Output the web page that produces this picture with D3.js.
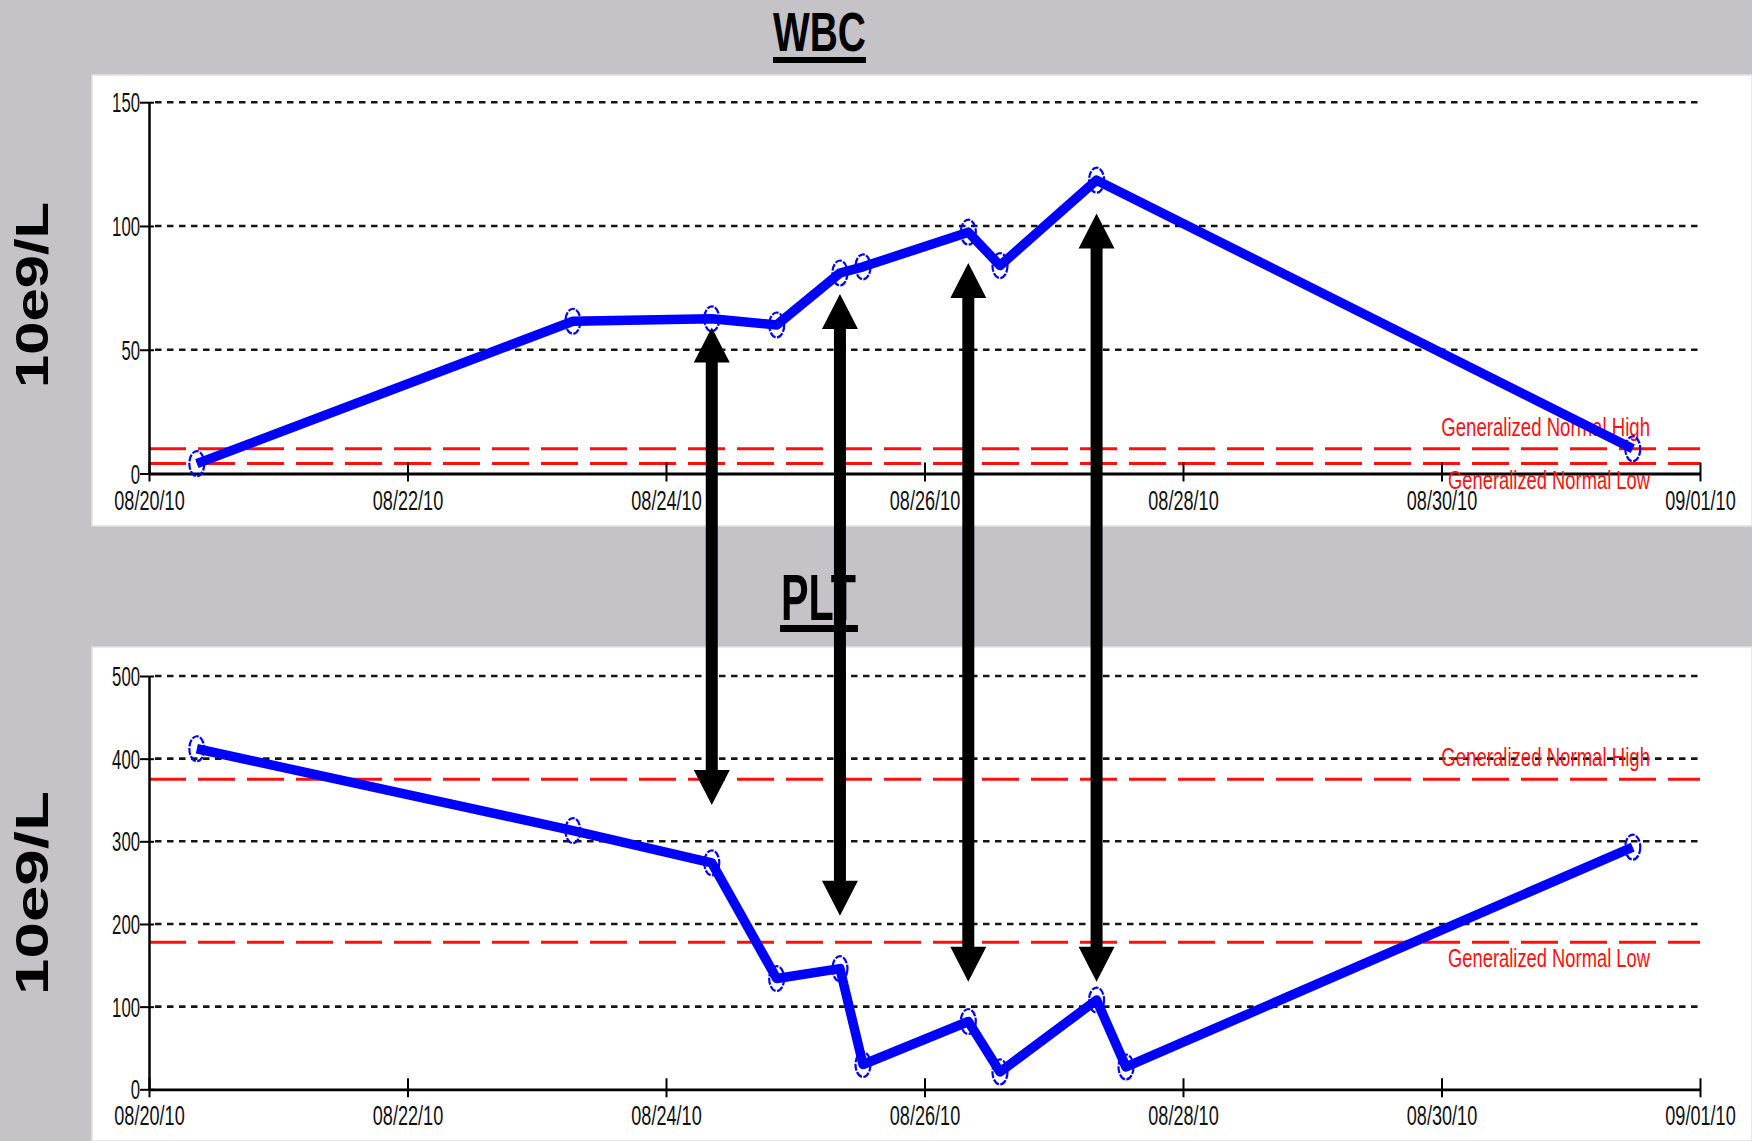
<!DOCTYPE html>
<html><head><meta charset="utf-8">
<script src="https://cdn.jsdelivr.net/npm/d3@7"></script>
<style>html,body{margin:0;padding:0;background:#c5c3c7;} svg{display:block;}</style>
</head><body><svg id="c" width="1752" height="1141"></svg>
<script>
// ---------- data ----------
const tickDates = ["2010-08-20","2010-08-22","2010-08-24","2010-08-26","2010-08-28","2010-08-30","2010-09-01"];
const wbcDates = ["2010-08-20T08:53","2010-08-23T06:43","2010-08-24T08:30","2010-08-24T20:33","2010-08-25T08:18",
                  "2010-08-25T12:35","2010-08-26T08:08","2010-08-26T14:01","2010-08-27T07:57","2010-08-31T11:31"];
const wbcValues = [4, 61.5, 62.5, 60, 81, 83.5, 97.5, 84, 118.5, 10];
const pltDates = ["2010-08-20T08:53","2010-08-23T06:43","2010-08-24T08:30","2010-08-24T20:33","2010-08-25T08:18",
                  "2010-08-25T12:35","2010-08-26T08:08","2010-08-26T14:01","2010-08-27T07:57","2010-08-27T13:25","2010-08-31T11:31"];
const pltValues = [412, 313, 274, 134, 146, 30, 82, 21, 108, 27, 293];
const wbcTicks = [0, 50, 100, 150];
const pltTicks = [0, 100, 200, 300, 400, 500];
const wbcNormalRange = [4, 10];     // low, high
const pltNormalRange = [178, 375];  // low, high
const normalLabels = ["Generalized Normal Low", "Generalized Normal High"];
const titles = ["WBC", "PLT"];
const unitLabel = "10e9/L";
const arrowDates = ["2010-08-24T08:30","2010-08-25T08:18","2010-08-26T08:08","2010-08-27T07:57"];
const arrowWbcTips = [59, 72.5, 85, 105];
const arrowPltTips = [344, 210, 130, 130];

// ---------- setup ----------
const pT = d3.timeParse("%Y-%m-%dT%H:%M"), pD = d3.timeParse("%Y-%m-%d");
const fmt = d3.timeFormat("%m/%d/%y");
const svg = d3.select("#c");
const GRAY = "#c5c3c7";
const FONT = "Liberation Sans, Arial, sans-serif";
svg.append("rect").attr("width",1752).attr("height",1141).attr("fill",GRAY);

const x = d3.scaleTime().domain([pD(tickDates[0]), pD(tickDates[tickDates.length-1])]).range([149, 1700]);

const panels = [
  {title:titles[0], dates:wbcDates, values:wbcValues, ticks:wbcTicks, normal:wbcNormalRange,
   y:d3.scaleLinear().domain([0,150]).range([473.5,102.2]),
   bg:[75,526], titleBase:51, titleSize:56, titleLen:93, titleX:819.5, ul:[773,866,57,6],
   unitY:295, unitLen:186},
  {title:titles[1], dates:pltDates, values:pltValues, ticks:pltTicks, normal:pltNormalRange,
   y:d3.scaleLinear().domain([0,500]).range([1089.3,676]),
   bg:[647,1141], titleBase:620, titleSize:65, titleLen:75, titleX:818.5, ul:[780,858,625,7],
   unitY:893, unitLen:204}
];

function squeezeTo(textSel, px, py, target){
  const n = textSel.node().getComputedTextLength();
  const r = target / n;
  textSel.attr("x",0).attr("y",0).attr("transform",`translate(${px},${py}) scale(${r},1)`);
}
function squeezeRatio(sel, ratio){
  sel.each(function(){
    const t = d3.select(this);
    const px = +t.attr("x") || 0, py = +t.attr("y") || 0;
    t.attr("x",0).attr("y",0).attr("transform",`translate(${px},${py}) scale(${ratio},1)`);
  });
}

panels.forEach(p => {
  svg.append("rect").attr("x",92).attr("y",p.bg[0]).attr("width",1752-92).attr("height",p.bg[1]-p.bg[0])
     .attr("fill","#fff").attr("stroke","#e2e2e2").attr("stroke-width",1.5);

  const tt = svg.append("text").attr("text-anchor","middle")
     .attr("font-family",FONT).attr("font-weight","bold")
     .attr("font-size",p.titleSize).attr("fill","#000").text(p.title);
  squeezeTo(tt, p.titleX, p.titleBase, p.titleLen);
  svg.append("rect").attr("x",p.ul[0]).attr("y",p.ul[2]).attr("width",p.ul[1]-p.ul[0]).attr("height",p.ul[3]).attr("fill","#000");

  const ut = svg.append("text").attr("text-anchor","middle")
     .attr("font-family",FONT).attr("font-weight","bold")
     .attr("font-size",46).attr("fill","#000").text(unitLabel);
  const un = ut.node().getComputedTextLength();
  ut.attr("transform",`translate(48,${p.unitY}) rotate(-90) scale(${p.unitLen/un},1)`);

  const y = p.y;
  const y0 = y(0);

  svg.append("g").selectAll("line").data(p.ticks.filter(t=>t>0)).join("line")
     .attr("x1",155).attr("x2",1700).attr("y1",d=>y(d)).attr("y2",d=>y(d))
     .attr("stroke","#151515").attr("stroke-width",2.6).attr("stroke-dasharray","6.5,5.5");

  svg.append("g").selectAll("line").data(p.normal).join("line")
     .attr("x1",149).attr("x2",1700).attr("y1",d=>y(d)).attr("y2",d=>y(d))
     .attr("stroke","#ff1010").attr("stroke-width",3).attr("stroke-dasharray","37,12");

  const ya = svg.append("g").attr("transform","translate(149,0)")
     .call(d3.axisLeft(y).tickValues(p.ticks).tickSize(9).tickSizeOuter(0).tickPadding(0));
  ya.select(".domain").attr("stroke","#000").attr("stroke-width",2.5);
  ya.selectAll(".tick line").attr("x1",5).attr("stroke","#000").attr("stroke-width",2);
  ya.selectAll(".tick text").attr("font-family",FONT).attr("font-size",27)
     .attr("fill","#111").attr("dy",0).attr("y",9.5).call(squeezeRatio,0.62);

  const xa = svg.append("g").attr("transform",`translate(0,${y0})`)
     .call(d3.axisBottom(x).tickValues(tickDates.map(pD)).tickFormat(fmt).tickSize(8).tickSizeOuter(0));
  xa.select(".domain").attr("stroke","#000").attr("stroke-width",2.8);
  xa.selectAll(".tick line").attr("y1",-11).attr("stroke","#000").attr("stroke-width",2);
  xa.selectAll(".tick text").attr("y",36).attr("dy",0).attr("font-family",FONT)
     .attr("font-size",27).attr("fill","#111").call(squeezeRatio,0.67);

  const lblHigh = svg.append("text").attr("text-anchor","end")
     .attr("font-family",FONT).attr("font-size",25).attr("fill","#ff1010").text(normalLabels[1]);
  squeezeTo(lblHigh, 1650, y(p.normal[1])-13, 209);
  const lblLow = svg.append("text").attr("text-anchor","end")
     .attr("font-family",FONT).attr("font-size",25).attr("fill","#ff1010").text(normalLabels[0]);
  squeezeTo(lblLow, 1650, y(p.normal[0])+25, 202);

  const pts = p.dates.map((d,i)=>({d:pT(d), v:p.values[i]}));
  svg.append("path").datum(pts)
     .attr("d", d3.line().x(d=>x(d.d)).y(d=>y(d.v)))
     .attr("fill","none").attr("stroke","#0000ff").attr("stroke-width",9.5).attr("stroke-linejoin","round");
  svg.append("g").selectAll("ellipse").data(pts).join("ellipse")
     .attr("cx",d=>x(d.d)).attr("cy",d=>y(d.v)).attr("rx",7.5).attr("ry",12.5)
     .attr("fill","none").attr("stroke","#0000ff").attr("stroke-width",2.2).attr("stroke-dasharray","7,1.5");
});

const yW = panels[0].y, yP = panels[1].y;
const arrows = arrowDates.map((d,i)=>({x:x(pT(d)), t:yW(arrowWbcTips[i]), b:yP(arrowPltTips[i])}));
const hw = 18, hh = 35, sw = 6;
svg.append("g").selectAll("path").data(arrows).join("path")
   .attr("d", a => `M${a.x},${a.t} L${a.x+hw},${a.t+hh} L${a.x+sw},${a.t+hh} L${a.x+sw},${a.b-hh} L${a.x+hw},${a.b-hh}
                    L${a.x},${a.b} L${a.x-hw},${a.b-hh} L${a.x-sw},${a.b-hh} L${a.x-sw},${a.t+hh} L${a.x-hw},${a.t+hh} Z`)
   .attr("fill","#000");
</script></body></html>
